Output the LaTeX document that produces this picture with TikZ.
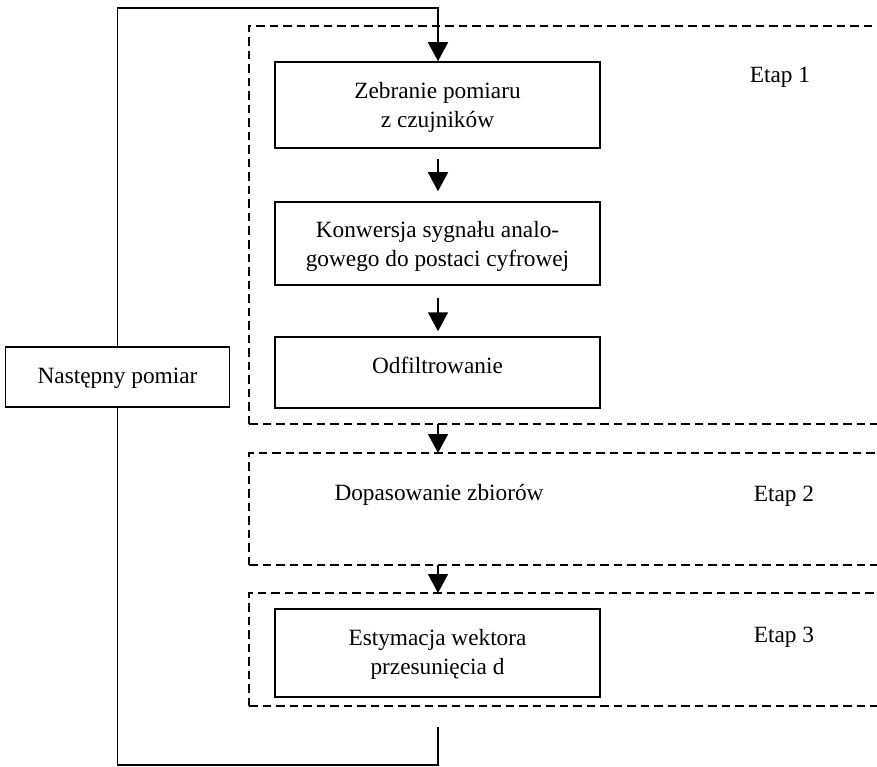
\documentclass[tikz,border=0pt]{standalone}
\usepackage{fontspec}
\setmainfont{Liberation Serif}
\usetikzlibrary{arrows.meta}
\newcommand{\topstrut}[1]{\rule{0pt}{#1}}
\newcommand{\botstrut}[1]{\rule[-#1]{0pt}{#1}}
\tikzset{
  procbox/.style={draw, line width=1.5pt, minimum width=325pt, align=center, inner sep=0pt,
    font=\fontsize{23.3}{29.5}\selectfont},
  plain/.style={inner sep=0pt, anchor=base, font=\fontsize{23.3}{29.5}\selectfont},
  frame/.style={line width=2pt, dash pattern=on 8.5pt off 5pt},
  conn/.style={line width=1.5pt},
  arr/.style={conn, -{Triangle[length=19pt,width=20pt]}}
}
\begin{document}
\begin{tikzpicture}[x=1pt,y=-1pt]
\useasboundingbox (0,0) rectangle (877,767);
% stage frames (right side lies beyond the picture edge)
\draw[frame] (249,424) -- (249,26) -- (877,26);
\draw[frame] (249,424) -- (877,424);
\draw[frame] (249,565) -- (249,453) -- (877,453);
\draw[frame] (249,565) -- (877,565);
\draw[frame] (249,706) -- (249,593) -- (877,593);
\draw[frame] (249,706) -- (877,706);
% boxes
\node[procbox, minimum height=86pt] (zeb) at (437.5,105)
  {\topstrut{22.5pt}Zebranie pomiaru\\z czujników\botstrut{6pt}};
\node[procbox, minimum height=83pt] (konw) at (437.5,243.5)
  {\topstrut{22.5pt}Konwersja sygnału analo-\\gowego do postaci cyfrowej\botstrut{6pt}};
\node[procbox, minimum height=71pt] (odf) at (437.5,372.5)
  {\topstrut{17pt}Odfiltrowanie\botstrut{15.4pt}};
\node[procbox, minimum height=88pt] (est) at (437.5,653)
  {\topstrut{19.5pt}Estymacja wektora\\przesunięcia d\botstrut{6pt}};
\node[procbox, minimum width=224pt, minimum height=60pt] (nast) at (117.5,377)
  {\topstrut{18pt}Następny pomiar\botstrut{5.4pt}};
% labels
\node[plain] (e1) at (780,83) {Etap 1};
\node[plain] (e2) at (784,501.5) {Etap 2};
\node[plain] (e3) at (784,642.5) {Etap 3};
\node[plain] (dop) at (439,500) {Dopasowanie zbiorów};
% coordinates on frames and loop
\coordinate (c1) at (438,8);
\coordinate (f1b) at (438,424);
\coordinate (f2t) at (438,453);
\coordinate (f2b) at (438,565);
\coordinate (f3t) at (438,593);
\coordinate (c2) at (438,727);
\coordinate (c3) at (438,765);
% connectors
\draw[arr] (nast.north) |- (c1) -- (zeb.north -| c1);
\draw[arr, shorten <=10pt, shorten >=10pt] (zeb.south -| c1) -- (konw.north -| c1);
\draw[arr, shorten <=12pt, shorten >=5pt] (konw.south -| c1) -- (odf.north -| c1);
\draw[arr] (f1b) -- (f2t);
\draw[arr] (f2b) -- (f3t);
\draw[conn] (c2) -- (c3) -| (nast.south);
\end{tikzpicture}
\end{document}
